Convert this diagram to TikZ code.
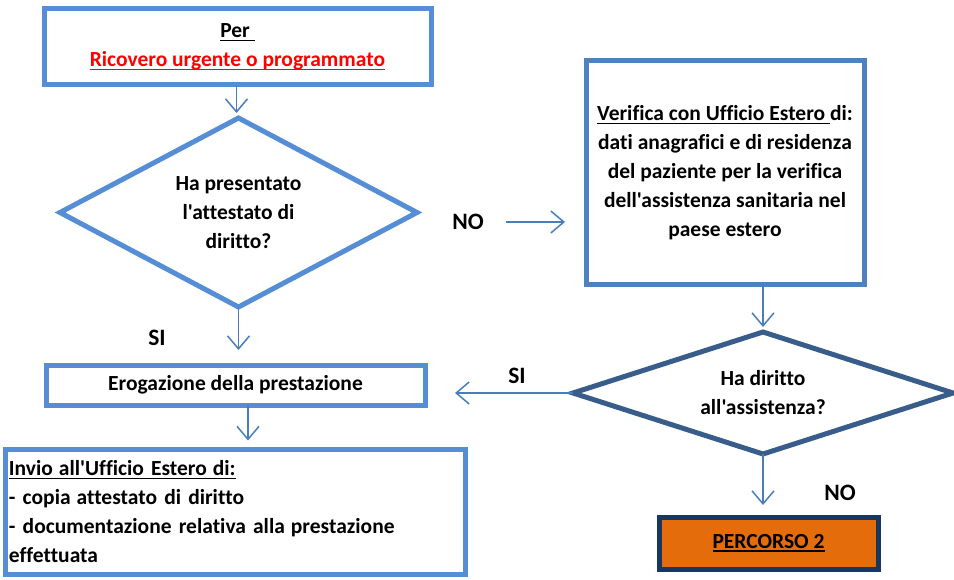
\documentclass[tikz,border=0pt]{standalone}
\usepackage{fontspec}
\setmainfont{Carlito}[Ligatures={TeXOff,CommonOff}]
\usetikzlibrary{arrows.meta,shapes.geometric}
\definecolor{lblue}{RGB}{85,142,213}
\definecolor{mblue}{RGB}{79,129,189}
\definecolor{dblue}{RGB}{56,93,138}
\definecolor{navy}{RGB}{23,55,94}
\definecolor{orng}{RGB}{228,108,10}
\definecolor{arrblue}{RGB}{74,126,187}
\newcommand\myul[1]{\setbox0\hbox{#1}\rlap{\rule[-3.5pt]{\wd0}{1.6pt}}\box0}
\begin{document}
\begin{tikzpicture}[x=1pt,y=-1pt,
  every node/.style={font=\fontsize{21.5}{29}\selectfont\bfseries, inner sep=0pt, outer sep=0pt},
  box/.style={draw=lblue, line width=5pt, rectangle, fill=white},
  dia/.style={draw=lblue, line width=5pt, diamond, fill=white},
  lbl/.style={font=\fontsize{23.5}{26}\selectfont\bfseries},
  conn/.style={draw=arrblue, line width=1.5pt, -{Straight Barb[length=13pt,width=22pt,line width=1.5pt]}}]
\useasboundingbox (0,0) rectangle (954,580);

\node[box, minimum width=387pt, minimum height=76pt, align=center] (top) at (237.5,47)
  {\myul{Per\ }\\\textcolor{red}{\myul{Ricovero urgente o programmato}}};
\node[dia, minimum width=357pt, minimum height=189pt, aspect=1.889, align=center] (d1) at (238.5,212.5)
  {Ha presentato\\l'attestato di\\diritto?};
\node[box, draw=mblue, minimum width=278pt, minimum height=224pt, align=center] (rbox) at (725,173)
  {\myul{Verifica con Ufficio Estero\ }di:\\dati anagrafici e di residenza\\del paziente per la verifica\\dell'assistenza sanitaria nel\\paese estero};
\node[dia, draw=dblue, minimum width=380pt, minimum height=122pt, aspect=3.115, align=center] (d2) at (763,393)
  {Ha diritto\\all'assistenza?};
\node[box, minimum width=379pt, minimum height=40pt] (ero) at (235.5,385) {Erogazione della prestazione};
\node[box, minimum width=460pt, minimum height=125pt, text width=452pt, inner xsep=4pt, align=left] (invio) at (235,512)
  {\myul{Invio\hspace{6pt}all'Ufficio Estero\hspace{6pt}di:}\\- copia\hspace{6pt}attestato di diritto\\- documentazione relativa alla\hspace{6pt}prestazione\\effettuata};
\node[box, draw=navy, fill=orng, minimum width=219pt, minimum height=52pt] (p2) at (768.5,543) {\raisebox{3pt}{\myul{PERCORSO 2}}};

\node[lbl] (no1) at (468,222) {NO};
\node[lbl] (si1) at (157,338) {SI};
\node[lbl] (si2) at (517,376) {SI};
\node[lbl] (no2) at (840,493) {NO};

\draw[conn, shorten >=5pt] ([xshift=-2pt]top.south -| d1.north) -- ([xshift=-2pt]d1.north);
\draw[conn, shorten >=15pt] (d1.south) -- (d1.south |- ero.north);
\draw[conn, shorten <=22pt, shorten >=21pt] (no1.east) -- (no1.east -| rbox.west);
\draw[conn, shorten >=5pt] (d2.north |- rbox.south) -- (d2.north);
\draw[conn] (d2.west) -- ([xshift=30pt]d2.west -| ero.east);
\draw[conn, shorten >=9pt] ([xshift=12.5pt]ero.south) -- ([xshift=12.5pt]ero.south |- invio.north);
\draw[conn, shorten >=12pt] (d2.south) -- (d2.south |- p2.north);
\end{tikzpicture}
\end{document}
